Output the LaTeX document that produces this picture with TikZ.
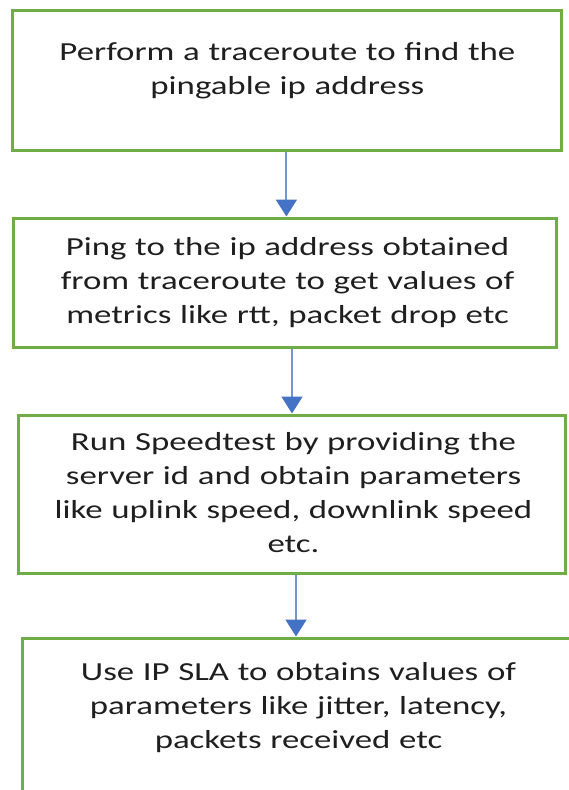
\documentclass[tikz,border=0pt]{standalone}
\usepackage{fontspec}
\setmainfont{Carlito}[FakeStretch=1.34]
\usepackage{tikz}
\usetikzlibrary{arrows.meta,positioning,calc}
\definecolor{stepgreen}{RGB}{112,173,71}
\definecolor{flowblue}{RGB}{68,114,196}

\begin{document}
\begin{tikzpicture}[x=1pt, y=-1pt,
    stepbox/.style={draw=stepgreen, line width=3pt, rectangle, inner sep=0pt},
    steptext/.style={anchor=base, text width=540pt, align=center, inner sep=0pt, font=\fontsize{26}{34}\selectfont, text=black!88},
    flow/.style={draw=flowblue!75, line width=2pt, -{Triangle[width=21pt,length=17pt,color=flowblue]}}]
    \useasboundingbox (0,0) rectangle (568,790);

    % the four steps, top to bottom
    \node[stepbox, minimum width=549pt, minimum height=140pt] (box1) at (287.4,80.9) {};
    \node[stepbox, minimum width=543pt, minimum height=129pt] (box2) at (284.5,282.5) {};
    \node[stepbox, minimum width=547pt, minimum height=158pt] (box3) at (291.5,494) {};
    \node[stepbox, minimum width=553pt, minimum height=192pt] (box4) at (298.5,734) {};

    \node[steptext] (txt1) at ([yshift=-51pt]box1.north) {Perform a traceroute to find the\\ pingable ip address};
    \node[steptext] (txt2) at ([xshift=3pt,yshift=-39pt]box2.north) {Ping to the ip address obtained\\ from traceroute to get values of\\ metrics like rtt, packet drop etc};
    \node[steptext] (txt3) at ([xshift=2pt,yshift=-37pt]box3.north) {Run Speedtest by providing the\\ server id and obtain parameters\\ like uplink speed, downlink speed\\ etc.};
    \node[steptext] (txt4) at ([yshift=-44pt]box4.north) {Use IP SLA to obtains values of\\ parameters like jitter, latency,\\ packets received etc};

    % connectors
    \draw[flow] ([xshift=-1pt]box1.south) -- ([xshift=-1pt]box1.south |- box2.north);
    \draw[flow] ([xshift=7.5pt]box2.south) -- ([xshift=7.5pt]box2.south |- box3.north);
    \draw[flow] ([xshift=4.5pt]box3.south) -- ([xshift=4.5pt]box3.south |- box4.north);
\end{tikzpicture}
\end{document}
